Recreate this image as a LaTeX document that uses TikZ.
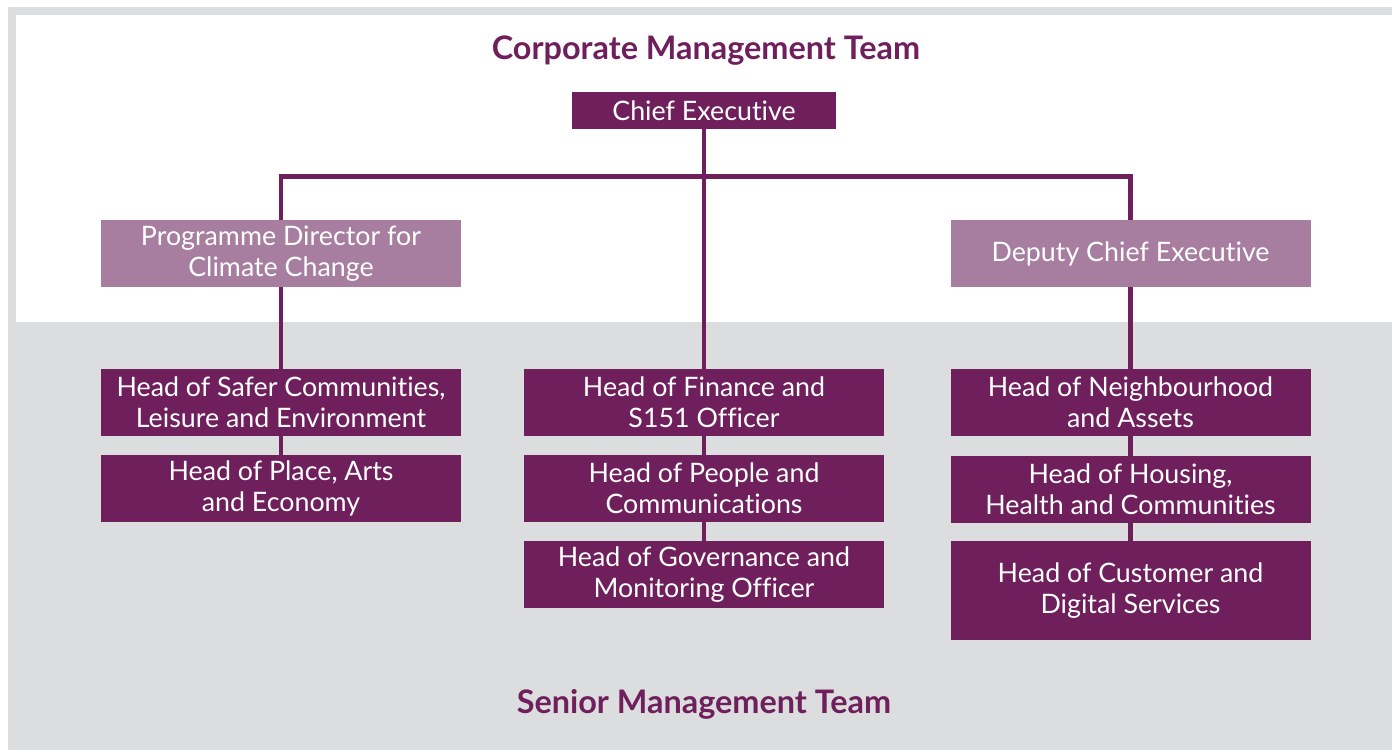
\documentclass[tikz,border=0pt]{standalone}
\usepackage{fontspec}
\setmainfont{Lato}[Ligatures=NoCommon]
\definecolor{cmtpurple}{RGB}{110,31,92}
\definecolor{cmtlight}{RGB}{167,126,159}
\definecolor{cmtgray}{RGB}{220,221,223}
\begin{document}
\begin{tikzpicture}[x=0.5pt,y=-0.5pt,
    post/.style={fill=cmtpurple,text=white,align=center,inner sep=0pt,
        minimum width=180pt,minimum height=33.5pt,
        font=\fontsize{13.4}{15.5}\selectfont},
    lightpost/.style={post,fill=cmtlight},
    link/.style={draw=cmtpurple,line width=2.2pt,line join=miter},
    teamtitle/.style={text=cmtpurple,font=\fontsize{16.2}{19}\selectfont\bfseries}]
    \useasboundingbox (0,0) rectangle (1392,751);
    \fill [cmtgray] (8,7) rectangle (1392,750);
    \fill [white] (16,15) rectangle (1392,322);

    \node[teamtitle] (cmt) at(706,51) {Corporate Management Team};
    \node[teamtitle] (smt) at(704,704) {Senior Management Team};

    \node[post,minimum width=132pt,minimum height=18.5pt] (ce) at(704,110.5) {Chief Executive};
    \node[lightpost] (prog) at(281,253.5) {Programme Director for\\Climate Change};
    \node[lightpost] (dep) at(1130.5,253.5) {Deputy Chief Executive};

    \node[post] (safer) at(281,402.5) {Head of Safer Communities,\\Leisure and Environment};
    \node[post] (place) at(281,488.5) {Head of Place, Arts\\and Economy};

    \node[post] (fin) at(704,402.5) {Head of Finance and\\S151 Officer};
    \node[post] (people) at(704,488.5) {Head of People and\\Communications};
    \node[post] (gov) at(704,574.5) {Head of Governance and\\Monitoring Officer};

    \node[post] (neigh) at(1130.5,402.5) {Head of Neighbourhood\\and Assets};
    \node[post] (housing) at(1130.5,489.5) {Head of Housing,\\Health and Communities};
    \node[post,minimum height=49.5pt] (cust) at(1130.5,590.5) {Head of Customer and\\Digital Services};

    \draw[link] (ce) -- (fin);
    \draw[link] (prog.north) -- ++(0,-43) -| (dep.north);
    \draw[link] (prog) -- (safer);
    \draw[link] (safer) -- (place);
    \draw[link] (fin) -- (people);
    \draw[link] (people) -- (gov);
    \draw[link] (dep) -- (neigh);
    \draw[link] (neigh) -- (housing);
    \draw[link] (housing) -- (cust);
\end{tikzpicture}
\end{document}
